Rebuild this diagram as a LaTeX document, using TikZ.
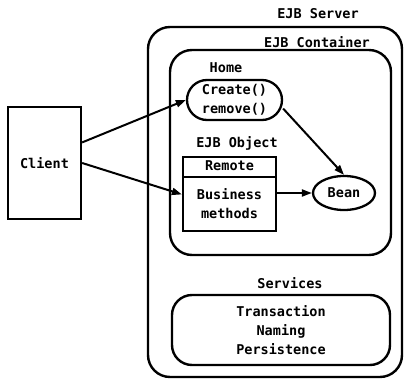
\documentclass[tikz,border=0pt]{standalone}
\usepackage{fontspec}
\setmonofont{DejaVu Sans Mono}
\usetikzlibrary{arrows.meta,calc,shapes.geometric}
\begin{document}
\begin{tikzpicture}[x=1pt,y=-1pt,
  lbl/.style={font=\ttfamily\bfseries\fontsize{13.5}{19}\selectfont, inner sep=0pt, align=center},
  frame/.style={draw, line width=2.4pt, rounded corners=22pt, inner sep=0pt},
  box/.style={draw, line width=2.3pt, inner sep=0pt, lbl},
  link/.style={line width=2pt, -{Triangle[length=10pt,width=7pt]}}
]
\useasboundingbox (0,0) rectangle (404,379);

% server, container and services frames
\node[frame, minimum width=254pt, minimum height=350pt] (server) at (275,202) {};
\node[frame, minimum width=221pt, minimum height=205pt] (container) at (280.5,152.5) {};
\node[frame, rounded corners=20pt, minimum width=218pt, minimum height=70pt, lbl] (services) at (281,330)
  {Transaction\\Naming\\Persistence};

% frame titles
\node[lbl] (serverlbl) at (318,14) {EJB Server};
\node[lbl] (containerlbl) at (317,42) {EJB Container};
\node[lbl] (homelbl) at (226,68) {Home};
\node[lbl] (objlbl) at (237,143) {EJB Object};
\node[lbl] (serviceslbl) at (290,283) {Services};

% client
\node[box, minimum width=73pt, minimum height=112pt] (client) at (44.5,163) {Client};

% home interface
\node[box, rounded corners=20pt, minimum width=95pt, minimum height=40pt] (home) at (234.5,100)
  {Create()\\remove()};

% EJB object: remote part on top of business methods
\node[box, minimum width=93pt, minimum height=20pt] (remote) at (229.5,167) {\raisebox{2pt}{Remote}};
\node[box, minimum width=93pt, minimum height=54pt] (biz) at (229.5,204) {Business\\methods};

% bean
\node[box, ellipse, minimum width=62pt, minimum height=34pt] (bean) at (344,193) {Bean};

% connectors
\draw[link] ($(client.north east)!0.32!(client.south east)$) -- (home.west);
\draw[link] (client.east) -- ($(biz.north west)!0.33!(biz.south west)$);
\draw[link] (home.-10) -- (bean.north);
\draw[link] (biz.east |- bean.west) -- (bean.west);
\end{tikzpicture}
\end{document}
